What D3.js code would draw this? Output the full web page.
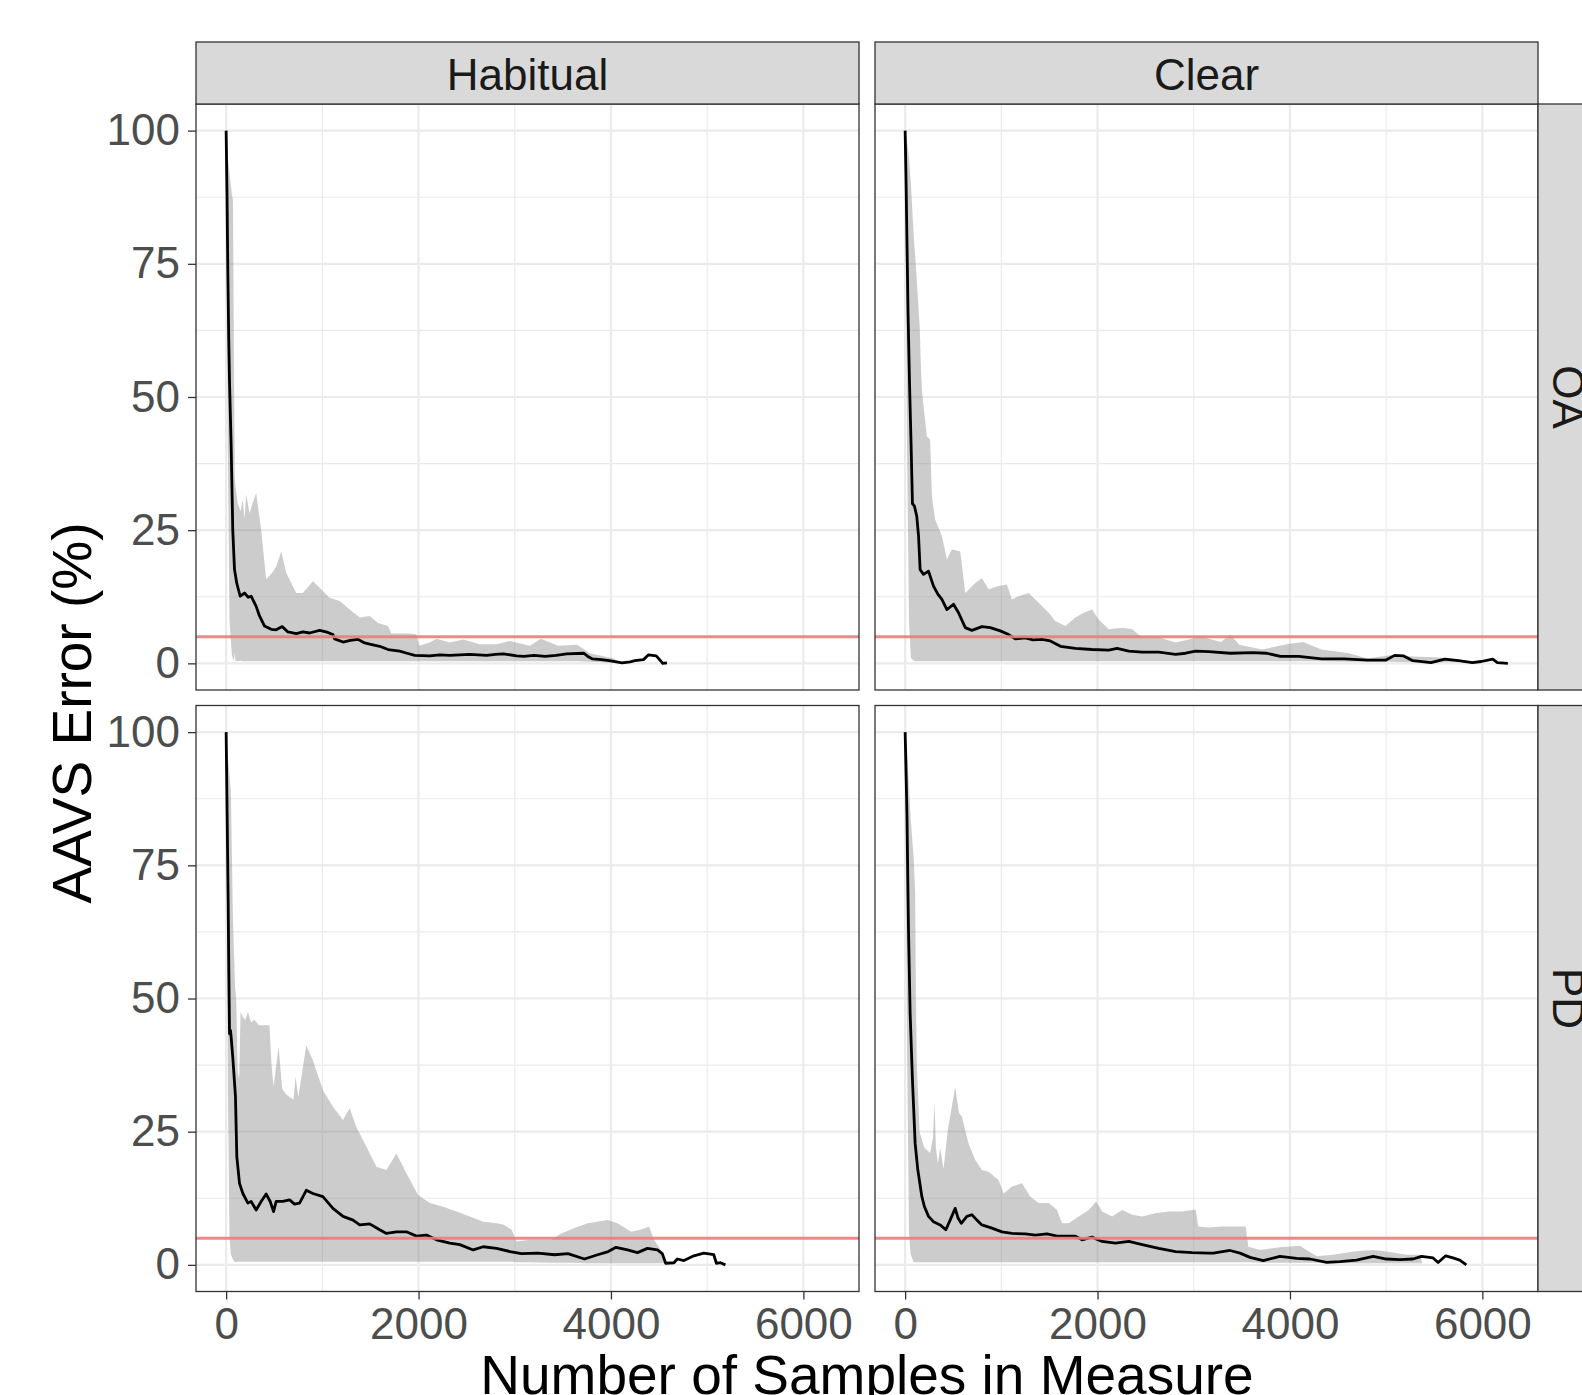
<!doctype html>
<html>
  <head>
    <meta charset="utf-8">
    <script src="https://d3js.org/d3.v7.min.js"></script>
    <style>
      body { margin: 0; background: #fff; }
      svg { display: block; }
      text { font-family: "Liberation Sans", Arial, sans-serif; }
    </style>
  </head>

  <body>
    <script type="text/javascript">

    /***********************************************/
    /******************** Data *********************/
    /***********************************************/

    const conditions = ["Habitual", "Clear"];
    const groups     = ["OA", "PD"];
    const xTicks     = [0, 2000, 4000, 6000];
    const xMinor     = [1000, 3000, 5000];
    const yTicks     = [0, 25, 50, 75, 100];
    const yMinor     = [12.5, 37.5, 62.5, 87.5];
    const threshold  = 5;

    // [samples, mean error %]
    const habitualOA_mean = [[0,100],[9,88],[18,73],[27,61],[35,53],[52,41],[69,25],[87,17.6],[111,15],[146,12.6],[191,13.2],[230,12.4],[260,12.6],[312,10.7],[347,8.9],[399,7],[468,6.4],[520,6.3],[583,6.9],[642,5.9],[729,5.6],[798,5.9],[867,5.7],[972,6.2],[1058,5.8],[1110,5.4],[1128,4.6],[1215,4],[1290,4.3],[1371,4.5],[1430,3.9],[1492,3.6],[1596,3.2],[1683,2.6],[1804,2.3],[1880,1.9],[1961,1.5],[2117,1.4],[2220,1.6],[2325,1.5],[2430,1.6],[2533,1.7],[2707,1.5],[2800,1.7],[2880,1.8],[3019,1.4],[3093,1.3],[3200,1.5],[3316,1.3],[3430,1.5],[3538,1.8],[3716,1.9],[3760,1.3],[3804,0.85],[3900,0.7],[3982,0.5],[4116,0.1],[4200,0.3],[4249,0.5],[4338,0.7],[4391,1.6],[4430,1.5],[4471,1.4],[4515,0.5],[4538,0],[4582,0.1]];
    // [samples, lower, upper]
    const habitualOA_band = [[0,100,100],[18,40,95],[35,8,92],[60,1.5,88],[71,0.8,87],[80,0.5,60],[90,2,35],[97,0.5,33.3],[121,0.4,30],[150,0.5,28.6],[173,0.4,30.8],[190,0.4,27],[208,0.4,31.7],[243,0.4,28.2],[275,0.4,30],[312,0.4,32],[364,0.4,25.1],[416,0.4,15.8],[479,0.4,17],[520,0.4,18.2],[573,0.4,21],[625,0.4,17],[677,0.4,15.1],[729,0.4,13.2],[798,0.4,13.2],[902,0.4,15.4],[972,0.4,14.2],[1076,0.4,12.3],[1180,0.4,11.7],[1284,0.4,10.1],[1388,0.4,8.6],[1492,0.4,8.9],[1579,0.4,7.6],[1683,0.4,7],[1718,0.4,5.6],[1909,0.4,5.6],[1978,0.4,5.4],[2006,0.4,3.3],[2117,0.4,3.9],[2186,0.4,4.6],[2325,0.4,3.9],[2464,0.4,4.5],[2637,0.4,3.6],[2811,0.4,3.6],[2950,0.4,4.2],[3158,0.4,3.3],[3271,0.4,4.6],[3449,0.4,3.3],[3649,0.4,3.5],[3782,0.3,1.9],[4027,0.1,0.9],[4093,0.1,0.3]];

    const clearOA_mean = [[0,100],[10,90],[20,78],[30,66],[45,53],[62,41],[76,30],[97,29.5],[121,27.6],[139,24],[156,17.6],[191,16.7],[243,17.3],[295,14.5],[340,13],[382,12],[434,10.1],[503,11.1],[555,9.5],[625,6.7],[694,6.2],[798,6.9],[885,6.7],[989,6.1],[1076,5.4],[1145,4.6],[1249,4.8],[1330,4.4],[1423,4.5],[1509,4.2],[1614,3.2],[1770,2.8],[1943,2.6],[2117,2.5],[2203,2.8],[2325,2.3],[2464,2.1],[2637,2.1],[2811,1.7],[2915,1.9],[3019,2.3],[3158,2.2],[3379,1.9],[3616,2],[3759,1.9],[3901,1.3],[4091,1.3],[4328,0.85],[4566,0.85],[4803,0.6],[4993,0.6],[5088,1.5],[5183,1.4],[5277,0.5],[5467,0.15],[5610,0.8],[5752,0.5],[5895,0.15],[5989,0.35],[6108,0.8],[6156,0.15],[6265,0]];
    const clearOA_band = [[0,100,100],[20,40,98],[40,8,95],[60,1,90],[90,0.5,80],[110,0.4,75],[128,0.4,70],[152,0.4,63],[165,0.4,55],[176,0.4,51],[199,0.4,47],[226,0.4,42.6],[260,0.4,42],[278,0.4,31.4],[312,0.4,27],[382,0.4,23.9],[434,0.4,19.5],[486,0.4,21.4],[573,0.4,21],[625,0.4,13.2],[729,0.4,15.1],[798,0.4,16],[868,0.4,13.9],[972,0.4,14.5],[1058,0.4,14.8],[1110,0.4,12],[1180,0.4,12.6],[1284,0.4,13.2],[1388,0.4,11.4],[1492,0.4,9.5],[1562,0.4,7.9],[1666,0.4,7],[1770,0.4,8.6],[1856,0.4,9.5],[1943,0.4,10.1],[2013,0.4,8.2],[2117,0.4,6.4],[2256,0.4,6.7],[2360,0.4,6.4],[2464,0.4,4.8],[2637,0.4,4.9],[2811,0.4,3.9],[2950,0.4,4.5],[3071,0.4,5.1],[3158,0.4,4.6],[3284,0.4,4],[3379,0.4,5.4],[3474,0.4,3.5],[3711,0.4,2.6],[3996,0.4,3.7],[4138,0.4,4],[4328,0.4,2.6],[4613,0.3,1.9],[4803,0.3,0.9],[5040,0.3,1.5],[5277,0.2,1.3],[5562,0.2,1.1],[5752,0.2,0.7]];

    const habitualPD_mean = [[0,100],[10,85],[20,70],[28,55],[35,43.4],[45,44],[52,42.8],[69,39],[97,31.6],[111,20.3],[139,15.3],[174,13.4],[226,11.6],[260,11.9],[312,10.3],[364,11.9],[416,13.3],[458,11.9],[493,10],[520,11.9],[590,11.9],[659,12.2],[711,11.4],[763,11.6],[833,14],[902,13.4],[1006,12.8],[1110,10.6],[1215,9.1],[1319,8.4],[1388,7.5],[1492,7.7],[1596,6.6],[1666,5.9],[1770,6.2],[1874,6.2],[1978,5.4],[2082,5.6],[2186,4.7],[2325,4.1],[2429,3.8],[2568,2.8],[2672,3.4],[2811,3.1],[2950,2.5],[3069,2.1],[3241,2.2],[3414,1.9],[3552,2.1],[3724,1.1],[3862,1.9],[3972,2.5],[4052,3.3],[4172,2.8],[4276,2.3],[4379,3.1],[4483,2.8],[4534,2.1],[4569,0.3],[4655,0.4],[4690,1.1],[4759,0.8],[4862,1.7],[4965,2.2],[5069,1.9],[5096,0.3],[5138,0.4],[5190,0]];
    const habitualPD_band = [[0,100,100],[20,30,95],[35,5,92],[49,2,88.7],[71,1,64.7],[93,0.5,52],[104,0.6,50.3],[121,0.6,36],[135,0.6,35],[150,0.6,47.5],[175,0.6,46.5],[200,0.6,46],[226,0.6,47.5],[260,0.6,45.5],[295,0.6,46],[340,0.6,45],[382,0.6,45],[451,0.6,45],[470,0.6,38],[493,0.6,33.4],[545,0.6,41],[583,0.6,33],[625,0.6,32],[700,0.6,31],[722,0.6,35.3],[750,0.6,31.5],[833,0.6,41.2],[902,0.6,38.4],[1006,0.6,32.8],[1110,0.6,29.7],[1215,0.6,27.2],[1284,0.6,29.4],[1353,0.6,25.9],[1457,0.6,22.2],[1562,0.6,18.4],[1666,0.6,17.8],[1770,0.6,20.9],[1874,0.6,17.2],[1995,0.6,13.1],[2117,0.6,11.6],[2256,0.6,10.9],[2394,0.6,10],[2533,0.6,9.1],[2672,0.6,8.1],[2811,0.6,7.8],[2880,0.6,7.6],[2967,0.6,6.6],[3019,0.5,4.4],[3158,0.5,4.7],[3379,0.4,4.7],[3483,0.4,5.9],[3621,0.4,6.9],[3759,0.3,7.8],[3966,0.3,8.4],[4069,0.3,7.8],[4207,0.3,6.2],[4310,0.3,6.6],[4396,0.3,7.2],[4448,0.3,4.7],[4517,0.3,2.8],[4559,0.3,0.5]];

    const clearPD_mean = [[0,100],[10,92],[19,84.5],[28,72],[35,62.8],[52,47.2],[76,34.7],[104,22.8],[132,17.8],[174,12.8],[201,10.9],[243,9.1],[295,8.1],[364,7.5],[423,6.6],[468,8.4],[520,10.6],[550,8.8],[583,7.8],[642,9.1],[694,9.4],[746,8.4],[798,7.5],[902,6.9],[1006,6.2],[1110,5.9],[1249,5.8],[1353,5.6],[1475,5.8],[1579,5.4],[1770,5.4],[1839,4.7],[1943,5.2],[2047,4.4],[2186,4.1],[2325,4.4],[2464,3.8],[2637,3.1],[2811,2.5],[2984,2.3],[3158,2.2],[3204,2.2],[3377,2.7],[3481,2.2],[3585,1.4],[3723,0.8],[3896,1.6],[4069,1.2],[4208,1.1],[4381,0.45],[4519,0.6],[4692,0.9],[4865,1.6],[5003,1.1],[5142,1],[5280,1.1],[5367,1.6],[5488,1.3],[5540,0.45],[5619,1.7],[5695,1.3],[5765,0.9],[5834,0]];
    const clearPD_band = [[0,100,100],[20,40,97],[40,6,90],[57,2,84],[90,0.5,76],[104,0.5,70],[112,0.5,50],[121,0.5,38],[150,0.5,25],[200,0.5,22],[260,0.5,21],[290,0.5,24],[305,0.5,30.6],[320,0.5,22],[340,0.5,19],[364,0.5,22],[399,0.5,18],[444,0.5,25.3],[520,0.5,33.4],[560,0.5,28.5],[590,0.5,27.8],[659,0.5,22.8],[729,0.5,19.7],[798,0.5,17.8],[868,0.5,17.5],[972,0.5,15.9],[1024,0.5,13.4],[1110,0.5,14.7],[1215,0.5,15.3],[1301,0.5,12.8],[1388,0.5,11.6],[1492,0.5,11.6],[1579,0.5,10.3],[1631,0.5,7.8],[1700,0.5,7.8],[1804,0.5,9.1],[1909,0.5,10.3],[1985,0.5,11.9],[2047,0.5,10],[2151,0.5,9.1],[2256,0.5,10.3],[2360,0.5,9.4],[2464,0.5,9.1],[2602,0.5,9.7],[2741,0.5,10],[2880,0.5,10],[3019,0.5,10.4],[3047,0.5,7.2],[3158,0.5,7],[3300,0.5,7.2],[3540,0.5,7.2],[3567,0.5,3.4],[3689,0.4,2.8],[3896,0.4,3.3],[4104,0.4,3.6],[4277,0.4,1.6],[4450,0.3,1.9],[4658,0.3,2.5],[4865,0.3,2.8],[5003,0.3,2.5],[5211,0.3,1.9],[5349,0.3,1.9],[5370,0.3,0.8]];

    const panels = [
      { col: 0, row: 0, mean: habitualOA_mean, band: habitualOA_band },
      { col: 1, row: 0, mean: clearOA_mean,    band: clearOA_band },
      { col: 0, row: 1, mean: habitualPD_mean, band: habitualPD_band },
      { col: 1, row: 1, mean: clearPD_mean,    band: clearPD_band }
    ];

    /***********************************************/
    /******************* Layout ********************/
    /***********************************************/

    const width = 1582, height = 1395;
    const colX   = [196, 875];
    const rowY   = [104, 705.5];
    const panelW = 663, panelH = 586;
    const stripH = 62;
    const tickFont = 44, titleFont = 55;

    const xMax = d3.max(panels, p => p.mean[p.mean.length - 1][0]);
    const xPad = xMax * 0.05;

    const x = d3.scaleLinear().domain([-xPad, xMax + xPad]).range([0, panelW]);
    const y = d3.scaleLinear().domain([-5, 105]).range([panelH, 0]);

    const line = d3.line().x(d => x(d[0])).y(d => y(d[1]));
    const area = d3.area().x(d => x(d[0])).y0(d => y(d[1])).y1(d => y(d[2]));

    const svg = d3.select("body").append("svg")
                  .attr("width", width)
                  .attr("height", height);

    svg.append("rect").attr("width", width).attr("height", height).attr("fill", "#fff");

    /***********************************************/
    /******************* Panels ********************/
    /***********************************************/

    panels.forEach(function(p, i) {
      const g = svg.append("g")
                   .attr("transform", "translate(" + colX[p.col] + "," + rowY[p.row] + ")");

      g.append("clipPath").attr("id", "clip" + i)
        .append("rect").attr("width", panelW).attr("height", panelH);

      g.append("rect").attr("width", panelW).attr("height", panelH).attr("fill", "#fff");

      // grid
      g.selectAll(".xminor").data(xMinor).enter().append("line")
        .attr("x1", d => x(d)).attr("x2", d => x(d))
        .attr("y1", 0).attr("y2", panelH)
        .attr("stroke", "#ebebeb").attr("stroke-width", 1.2);
      g.selectAll(".yminor").data(yMinor).enter().append("line")
        .attr("y1", d => y(d)).attr("y2", d => y(d))
        .attr("x1", 0).attr("x2", panelW)
        .attr("stroke", "#ebebeb").attr("stroke-width", 1.2);
      g.selectAll(".xmajor").data(xTicks).enter().append("line")
        .attr("x1", d => x(d)).attr("x2", d => x(d))
        .attr("y1", 0).attr("y2", panelH)
        .attr("stroke", "#ebebeb").attr("stroke-width", 2.2);
      g.selectAll(".ymajor").data(yTicks).enter().append("line")
        .attr("y1", d => y(d)).attr("y2", d => y(d))
        .attr("x1", 0).attr("x2", panelW)
        .attr("stroke", "#ebebeb").attr("stroke-width", 2.2);

      const inner = g.append("g").attr("clip-path", "url(#clip" + i + ")");

      inner.append("path").datum(p.band)
        .attr("d", area)
        .attr("fill", "#808080")
        .attr("fill-opacity", 0.4);

      inner.append("path").datum(p.mean)
        .attr("d", line)
        .attr("fill", "none")
        .attr("stroke", "#000")
        .attr("stroke-width", 2.8)
        .attr("stroke-linejoin", "round");

      inner.append("line")
        .attr("x1", 0).attr("x2", panelW)
        .attr("y1", y(threshold)).attr("y2", y(threshold))
        .attr("stroke", "#ef7b7b")
        .attr("stroke-opacity", 0.9)
        .attr("stroke-width", 3);

      g.append("rect").attr("width", panelW).attr("height", panelH)
        .attr("fill", "none").attr("stroke", "#333").attr("stroke-width", 1.3);
    });

    /***********************************************/
    /******************* Strips ********************/
    /***********************************************/

    conditions.forEach(function(c, j) {
      svg.append("rect")
        .attr("x", colX[j]).attr("y", rowY[0] - stripH)
        .attr("width", panelW).attr("height", stripH)
        .attr("fill", "#d9d9d9").attr("stroke", "#333").attr("stroke-width", 1.3);
      svg.append("text")
        .attr("x", colX[j] + panelW / 2).attr("y", 89.5)
        .attr("text-anchor", "middle")
        .attr("font-size", tickFont).attr("fill", "#1a1a1a")
        .text(c);
    });

    groups.forEach(function(gr, j) {
      const sx = colX[1] + panelW;
      svg.append("rect")
        .attr("x", sx).attr("y", rowY[j])
        .attr("width", stripH).attr("height", panelH)
        .attr("fill", "#d9d9d9").attr("stroke", "#333").attr("stroke-width", 1.3);
      svg.append("text")
        .attr("transform", "translate(" + (sx + 15) + "," + (rowY[j] + panelH / 2) + ") rotate(90)")
        .attr("text-anchor", "middle")
        .attr("font-size", tickFont).attr("fill", "#1a1a1a")
        .text(gr);
    });

    /***********************************************/
    /******************** Axes *********************/
    /***********************************************/

    function styleAxis(ax) {
      ax.select(".domain").remove();
      ax.selectAll(".tick line").attr("stroke", "#333").attr("stroke-width", 1.3);
      ax.selectAll(".tick text")
        .attr("font-size", tickFont)
        .attr("font-family", "'Liberation Sans', Arial, sans-serif")
        .attr("fill", "#4d4d4d");
    }

    rowY.forEach(function(ry) {
      svg.append("g")
        .attr("transform", "translate(" + colX[0] + "," + ry + ")")
        .call(d3.axisLeft(y).tickValues(yTicks).tickSize(8).tickPadding(8))
        .call(styleAxis);
    });

    colX.forEach(function(cx) {
      svg.append("g")
        .attr("transform", "translate(" + cx + "," + (rowY[1] + panelH) + ")")
        .call(d3.axisBottom(x).tickValues(xTicks).tickFormat(d3.format("d")).tickSize(8).tickPadding(8))
        .call(styleAxis);
    });

    svg.append("text")
      .attr("transform", "translate(91," + 713 + ") rotate(-90)")
      .attr("text-anchor", "middle")
      .attr("font-size", titleFont).attr("fill", "#000")
      .text("AAVS Error (%)");

    svg.append("text")
      .attr("x", (colX[0] + colX[1] + panelW) / 2).attr("y", 1394)
      .attr("text-anchor", "middle")
      .attr("font-size", titleFont).attr("fill", "#000")
      .text("Number of Samples in Measure");

    </script>
  </body>
</html>
